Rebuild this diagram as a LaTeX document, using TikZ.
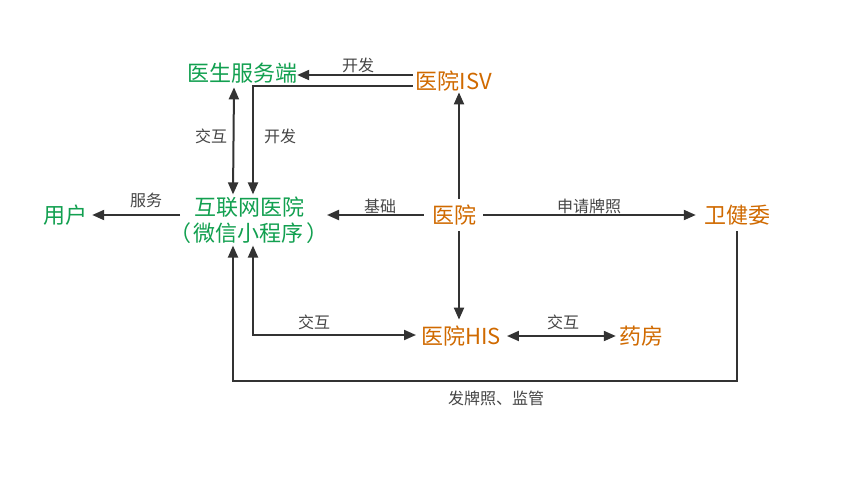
\documentclass[tikz,border=0pt]{standalone}
\usepackage{fontspec}
\setmainfont{Noto Sans CJK SC}
\usetikzlibrary{arrows.meta,calc}
\definecolor{cgreen}{HTML}{12A050}
\definecolor{corange}{HTML}{D06A00}
\definecolor{cline}{HTML}{333333}
\definecolor{clbl}{HTML}{454545}
\begin{document}
\begin{tikzpicture}[x=1pt,y=-1pt,
 mainn/.style={font=\fontsize{22}{26}\selectfont, inner sep=0pt},
 gr/.style={mainn,text=cgreen},
 org/.style={mainn,text=corange},
 lbl/.style={font=\fontsize{16}{18}\selectfont,text=clbl,inner sep=0pt},
 conn/.style={draw=cline,line width=2pt,-{Triangle[length=12pt,width=10pt]}},
 conn2/.style={conn,{Triangle[length=12pt,width=10pt]}-{Triangle[length=12pt,width=10pt]}}]
\useasboundingbox (0,0) rectangle (844,480);
\fill[white] (0,0) rectangle (844,480);
% nodes
\node[gr] (doc) at (242,73) {医生服务端};
\node[org] (isv) at (454,81) {医院ISV};
\node[gr] (user) at (65,215) {用户};
\node[gr,align=center] (web) at (249,220) {互联网医院\\（\hspace{3pt}微信小程序\hspace{3pt}）};
\node[org] (hosp) at (454,215) {医院};
\node[org] (wjw) at (737,215) {卫健委};
\node[org] (his) at (461,336) {医院HIS};
\node[org] (yf) at (641,336) {药房};
\coordinate (bend) at (0,381);
% labels
\node[lbl] (l1) at (358,65) {开发};
\node[lbl] (l2) at (280,136) {开发};
\node[lbl] (l3) at (211,136) {交互};
\node[lbl] (l4) at (146,200) {服务};
\node[lbl] (l5) at (380,206) {基础};
\node[lbl] (l6) at (589,206) {申请牌照};
\node[lbl] (l7) at (314,322) {交互};
\node[lbl] (l8) at (563,322) {交互};
\node[lbl] (l9) at (496,398) {发牌照、监管};
% connectors
\draw[conn] ($(isv.west)+(-3,-6)$) -- ($(isv.west -| doc.east)+(0,-6)$);
\draw[conn] ($(isv.west)+(-3,5)$) -| ($(web.north)+(4,-2)$);
\draw[conn2] ($(doc.south)+(-8,4)$) -- ($(web.north)+(-16,-2)$);
\draw[conn] ($(hosp.north)+(5,-6)$) -- ($(isv.south)+(5,1)$);
\draw[conn] ($(hosp.west)+(-8,0)$) -- ($(hosp.west -| web.center)+(78,0)$);
\draw[conn] ($(user.east -| web.center)+(-69,0)$) -- ($(user.east)+(5,0)$);
\draw[conn] ($(hosp.east)+(7,0)$) -- ($(wjw.west)+(-8,0)$);
\draw[conn] ($(hosp.south)+(5,6)$) -- ($(hosp.south |- his.north)+(5,-6)$);
\draw[conn2] ($(web.south)+(4,2)$) |- ($(his.west)+(-5,-1)$);
\draw[conn2] ($(his.east)+(6,0)$) -- ($(yf.west)+(-3,0)$);
\draw[conn] ($(wjw.south)+(0,6)$) -- (wjw.south |- bend) -| ($(web.south)+(-16,2)$);
\end{tikzpicture}
\end{document}
